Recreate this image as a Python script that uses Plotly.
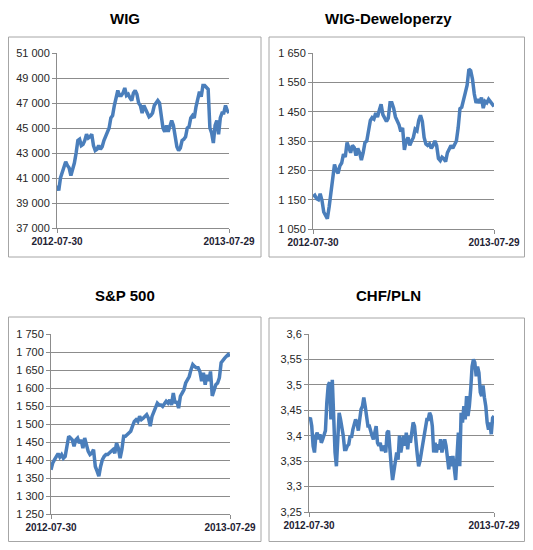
import plotly.graph_objects as go

# ---------------- data ----------------
date_labels = ["<b>2012-07-30</b>", "<b>2013-07-29</b>"]

titles = ["WIG", "WIG-Deweloperzy", "S&P 500", "CHF/PLN"]

wig = [40400, 40000, 41000, 41500, 42000, 42300, 42000, 41800, 41200, 41600,
       42200, 43000, 44000, 44100, 43600, 43700, 44000, 44500, 44200, 44300,
       44500, 43600, 43200, 43300, 43600, 43300, 43500, 44000, 44300, 44700,
       45000, 45800, 46000, 46800, 47300, 48000, 47600, 47600, 47800, 48200,
       47600, 47700, 47400, 47200, 47800, 48000, 47700, 47000, 46800, 46200,
       46800, 46500, 46300, 45900, 46000, 46200, 46800, 47000, 47200, 47000,
       46000, 45000, 44700, 45200, 44700, 45100, 45600, 45200, 44500, 43500,
       43200, 43400, 44000, 44100, 44300, 45000, 45100, 45800, 46000, 45800,
       46700, 47500, 47900, 47500, 48400, 48400, 48200, 48100, 45000, 44600,
       43800, 45200, 45600, 44500, 45800, 46200, 46200, 46800, 46400, 46200]

wig_dev = [1160, 1165, 1153, 1150, 1170, 1148, 1108, 1095, 1085, 1125,
           1170, 1215, 1270, 1250, 1240, 1265, 1275, 1305, 1295, 1345,
           1325, 1310, 1335, 1328, 1300, 1325, 1310, 1285, 1310, 1345,
           1350, 1390, 1420, 1430, 1425, 1445, 1432, 1455, 1475, 1440,
           1428, 1417, 1428, 1480, 1480, 1462, 1432, 1420, 1405, 1382,
           1395, 1320, 1350, 1362, 1335, 1350, 1362, 1390, 1385, 1420,
           1438, 1417, 1362, 1340, 1335, 1340, 1325, 1335, 1350, 1335,
           1290, 1283, 1295, 1290, 1280, 1310, 1320, 1335, 1325, 1340,
           1350, 1395, 1460, 1465, 1485, 1515, 1540, 1595, 1590, 1560,
           1510, 1480, 1492, 1480, 1498, 1462, 1485, 1480, 1492, 1485,
           1475, 1468]

sp500 = [1373, 1392, 1401, 1410, 1418, 1408, 1415, 1405, 1410, 1438,
         1466, 1461, 1456, 1438, 1456, 1461, 1447, 1456, 1433, 1461,
         1438, 1424, 1415, 1419, 1429, 1382, 1369, 1355, 1382, 1401,
         1410, 1415, 1415, 1419, 1424, 1429, 1419, 1447, 1433, 1405,
         1429, 1466, 1466, 1470, 1475, 1480, 1494, 1507, 1512, 1507,
         1521, 1512, 1516, 1523, 1526, 1516, 1494, 1521, 1535, 1549,
         1558, 1553, 1553, 1549, 1558, 1563, 1558, 1567, 1553, 1586,
         1558, 1563, 1544, 1577, 1586, 1595, 1614, 1623, 1632, 1651,
         1665, 1660, 1656, 1656, 1646, 1619, 1642, 1609, 1637, 1619,
         1646, 1578, 1595, 1609, 1614, 1628, 1670, 1679, 1683, 1688,
         1693, 1688]

chf_pln = [3.432, 3.435, 3.419, 3.38, 3.367, 3.40, 3.406, 3.393, 3.403, 3.386,
           3.393, 3.40, 3.41, 3.465, 3.499, 3.505, 3.432, 3.51, 3.419, 3.367,
           3.34, 3.40, 3.445, 3.432, 3.419, 3.40, 3.373, 3.373, 3.38, 3.383,
           3.40, 3.396, 3.412, 3.426, 3.432, 3.426, 3.41, 3.432, 3.452, 3.458,
           3.475, 3.458, 3.432, 3.419, 3.419, 3.406, 3.40, 3.393, 3.412, 3.419,
           3.386, 3.38, 3.386, 3.37, 3.38, 3.376, 3.367, 3.406, 3.41, 3.367,
           3.34, 3.313, 3.33, 3.357, 3.367, 3.353, 3.40, 3.367, 3.386, 3.40,
           3.38, 3.406, 3.373, 3.40, 3.386, 3.406, 3.426, 3.419, 3.38, 3.363,
           3.34, 3.35, 3.367, 3.386, 3.406, 3.419, 3.432, 3.432, 3.445, 3.439,
           3.419, 3.367, 3.386, 3.367, 3.383, 3.373, 3.393, 3.367, 3.386, 3.393,
           3.38, 3.347, 3.334, 3.36, 3.34, 3.36, 3.33, 3.313, 3.36, 3.406,
           3.34, 3.445, 3.426, 3.458, 3.432, 3.478, 3.439, 3.458, 3.491, 3.536,
           3.55, 3.544, 3.517, 3.536, 3.524, 3.485, 3.478, 3.499, 3.475, 3.458,
           3.426, 3.412, 3.426, 3.403, 3.435, 3.439]

series = [wig, wig_dev, sp500, chf_pln]
y_ranges = [[37000, 51000], [1050, 1650], [1250, 1750], [3.25, 3.6]]
y_dticks = [2000, 100, 50, 0.05]
y_formats = [",d", ",d", ",d", ".2~f"]

# ---------------- layout geometry ----------------
# positions are given in window pixels (533 x 550); the page body adds an 8 px
# margin, so the figure itself is 8 px smaller on each visible side.
OFF = 8
W, H = 533 - OFF, 550 - OFF
plot_boxes = [(57, 229, 53, 228), (313, 494, 53, 229),
              (51, 230, 334, 514), (309, 494, 334, 512)]
frame_boxes = [(8.5, 261, 37, 257), (269, 524.5, 37, 257),
               (8.5, 261, 317, 541.5), (269, 524.5, 318, 541.5)]
title_pos = [(125, 8.5), (388, 8.5), (125, 286), (388, 286)]


def px(x):
    return (x - OFF) / W


def py(y):
    return 1 - (y - OFF) / H


LINE_COLOR = "#4a7ebb"
GRID = "#8c8c8c"
FRAME = "#a6a6a6"
TICK_FONT = dict(family="Liberation Sans, Arial, sans-serif", size=11, color="#262626")
DATE_FONT = dict(family="Liberation Sans, Arial, sans-serif", size=10, color="#1e2233")
TITLE_FONT = dict(family="Liberation Sans, Arial, sans-serif", size=15, color="#000000")

fig = go.Figure()
layout = dict(width=W, height=H,
              margin=dict(l=0, r=0, t=0, b=0, pad=0, autoexpand=False),
              paper_bgcolor="white", plot_bgcolor="white",
              showlegend=False, separators=", ", template="none")
shapes, annotations = [], []

for i, (vals, yr, dt, fmt) in enumerate(zip(series, y_ranges, y_dticks, y_formats)):
    k = "" if i == 0 else str(i + 1)
    xs = list(range(len(vals)))
    fig.add_trace(go.Scatter(x=xs, y=vals, mode="lines",
                             line=dict(color=LINE_COLOR, width=3.5),
                             xaxis="x" + k, yaxis="y" + k, hoverinfo="skip"))
    x0, x1, y0, y1 = plot_boxes[i]
    layout["xaxis" + k] = dict(
        domain=[px(x0), px(x1)], range=[0, len(vals) - 1], anchor="y" + k,
        tickvals=[0, len(vals) - 1], ticktext=date_labels, tickfont=DATE_FONT,
        ticks="outside", ticklen=4, tickcolor=GRID, showgrid=False, automargin=False,
        showline=True, linecolor=GRID, linewidth=1, zeroline=False, fixedrange=True)
    layout["yaxis" + k] = dict(
        domain=[py(y1), py(y0)], range=yr, anchor="x" + k,
        dtick=dt, tick0=yr[0], tickformat=fmt, tickfont=TICK_FONT,
        ticks="outside", ticklen=4, tickcolor=GRID, automargin=False,
        showgrid=True, gridcolor=GRID, gridwidth=1,
        showline=True, linecolor=GRID, linewidth=1, zeroline=False, fixedrange=True)
    fx0, fx1, fy0, fy1 = frame_boxes[i]
    shapes.append(dict(type="rect", xref="paper", yref="paper",
                       x0=px(fx0), x1=px(fx1), y0=py(fy1), y1=py(fy0),
                       line=dict(color=FRAME, width=1), fillcolor="rgba(0,0,0,0)"))
    tx, ty = title_pos[i]
    annotations.append(dict(text="<b>%s</b>" % titles[i], xref="paper", yref="paper",
                            x=px(tx), y=py(ty), xanchor="center", yanchor="top",
                            borderpad=0, showarrow=False, font=TITLE_FONT))

layout["shapes"] = shapes
layout["annotations"] = annotations
fig.update_layout(**layout)
fig.write_html("out.html")
